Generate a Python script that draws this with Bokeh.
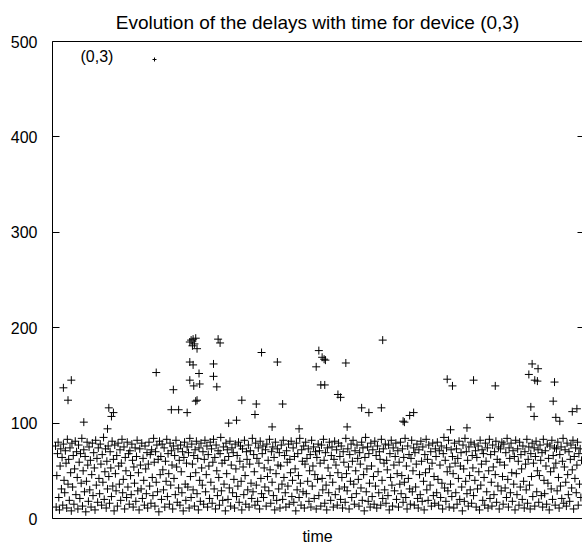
from bokeh.plotting import figure
from bokeh.models import (Range1d, LinearAxis, FixedTicker, Legend, LegendItem,
                          ColumnDataSource, CustomJSTickFormatter, Label)
from bokeh.embed import file_html
from bokeh.resources import INLINE

title_text = "Evolution of the delays with time for device (0,3)"
series_name = "(0,3)"
x_label = "time"
y_ticks = [0, 100, 200, 300, 400, 500]

# regular delays, one per time step
delays = [
    76, 12, 45, 68, 80, 22, 9, 55, 73, 31, 64, 14, 78, 40, 27, 71, 58, 11, 83, 36,
    62, 19, 74, 48, 8, 79, 33, 66, 15, 52, 81, 25, 70, 43, 10, 77, 59, 21, 68, 37,
    84, 13, 50, 72, 28, 65, 7, 39, 80, 56, 18, 75, 30, 61, 12, 46, 79, 24, 69, 53,
    9, 82, 35, 63, 17, 74, 42, 26, 78, 57, 14, 67, 38, 85, 20, 49, 73, 11, 60, 31,
    76, 44, 16, 70, 53, 23, 81, 34, 62, 8, 77, 47, 29, 66, 13, 79, 55, 36, 72, 19,
    58, 83, 27, 41, 75, 10, 64, 50, 22, 80, 33, 68, 15, 71, 45, 25, 78, 61, 12, 54,
    37, 74, 18, 65, 82, 29, 48, 9, 73, 56, 31, 79, 21, 63, 40, 14, 76, 52, 26, 69,
    11, 57, 80, 34, 67, 16, 72, 43, 24, 84, 59, 13, 70, 38, 77, 28, 62, 7, 81, 46,
    65, 20, 78, 51, 30, 74, 12, 60, 39, 83, 23, 68, 47, 15, 79, 35, 71, 56, 10, 76,
    42, 66, 25, 82, 54, 17, 73, 32, 61, 14, 77, 49, 27, 70, 8, 64, 80, 36, 19, 58,
    75, 33, 69, 11, 84, 44, 22, 78, 57, 30, 66, 13, 72, 48, 81, 26, 63, 9, 74, 40,
    18, 79, 53, 35, 70, 15, 62, 82, 28, 46, 76, 12, 67, 55, 21, 80, 38, 73, 16, 59,
    83, 31, 64, 10, 77, 50, 24, 71, 43, 14, 68, 85, 29, 58, 19, 75, 36, 61, 8, 79,
    47, 72, 20, 65, 32, 81, 13, 56, 74, 27, 69, 41, 11, 78, 52, 23, 66, 34, 80, 17,
    60, 76, 39, 9, 73, 54, 25, 82, 45, 15, 70, 62, 30, 77, 12, 57, 71, 37, 21, 84,
    28, 67, 49, 14, 79, 35, 63, 18, 74, 58, 10, 81, 42, 26, 68, 76, 22, 53, 33, 72,
    13, 78, 44, 61, 29, 83, 51, 16, 70, 38, 75, 24, 64, 9, 80, 47, 19, 73, 56, 31,
    69, 11, 55, 77, 36, 20, 82, 43, 66, 27, 12, 71, 59, 34, 78, 15, 62, 48, 81, 23,
    40, 74, 17, 65, 52, 8, 79, 30, 68, 45, 22, 84, 37, 14, 72, 60, 28, 76, 11, 57,
    80, 26, 63, 39, 73, 18, 50, 67, 12, 82, 34, 55, 75, 21, 46, 70, 10, 64, 41, 78,
    24, 71, 58, 13, 77, 42, 30, 83, 61, 16, 69, 35, 9, 74, 53, 27, 80, 45, 19, 66,
    75, 38, 12, 62, 81, 25, 56, 72, 14, 48, 79, 31, 65, 20, 76, 43, 11, 70, 59, 33,
    17, 84, 47, 29, 73, 54, 10, 67, 39, 78, 22, 60, 82, 36, 15, 71, 50, 26, 77, 63,
    41, 13, 69, 57, 32, 80, 19, 74, 46, 8, 64, 85, 28, 52, 75, 18, 68, 37, 12, 79,
    55, 23, 72, 44, 15, 81, 34, 66, 11, 76, 49, 27, 70, 62, 14, 83, 40, 21, 73, 58,
    30, 78, 16, 61, 51, 24, 77, 9, 68, 43, 82, 35, 13, 74, 56, 29, 65, 79, 20, 47,
    71, 12, 59, 36, 80, 26, 45, 73, 17, 64, 38, 84, 22, 55, 10, 76, 42, 67, 31, 15,
    63, 82, 28, 50, 74, 14, 69, 33, 57, 78, 21, 11, 72, 46, 25, 81, 60, 18, 75, 39,
    9, 67, 48, 83, 30, 62, 19, 77, 52, 35, 70, 13, 58, 79, 24, 44, 16, 73, 65, 27,
    80, 41, 14, 71, 56, 22, 76, 37, 10, 68, 85, 32, 61, 18, 74, 49, 29, 82, 12, 54,
    36, 72, 23, 65, 47, 11, 79, 58, 27, 73, 15, 63, 42, 81, 20, 55, 69, 33, 8, 77,
    52, 18, 84, 39, 70, 26, 61, 13, 75, 45, 30, 80, 16, 66, 53, 24, 78, 40, 71, 12,
    64, 31, 76, 49, 9, 82, 35, 57, 72, 19, 68, 43, 14, 79, 60, 28, 74, 11, 50, 83,
    21, 67, 38, 13, 77, 54, 25, 70, 46, 81, 17, 62, 34, 75, 10, 59, 73, 29, 80, 44,
    15, 78, 56, 32, 69, 22, 84, 41, 12, 74, 63, 27, 79, 48, 18, 71, 36, 65, 9, 82,
    47, 25, 73, 60, 14, 80, 33, 67, 52, 20, 76, 39, 11, 70, 57, 30, 83, 16, 62, 75,
    35, 10, 68, 44, 79, 23, 58, 74, 13, 65, 81, 28, 50, 72, 17, 45, 77, 61, 24, 69,
    12, 83, 40, 26, 71, 55, 15, 78, 37, 63, 9, 76, 49, 31, 82, 20, 66, 53, 74, 14,
    58, 73, 29, 80, 43, 11, 67, 34, 75, 21, 60, 84, 16, 54, 72, 38, 13, 79, 46, 25,
    70, 18, 62, 77, 32, 51, 82, 10, 65, 42, 74, 27, 56, 80, 14, 68, 36, 73, 22, 61,
]
time = list(range(len(delays)))

# larger delays (spikes)
spike_time = [12, 24, 19, 43, 81, 88, 85, 79, 153, 179, 176, 187, 200,
              204, 209, 213, 208, 215, 211, 206, 204, 209, 218, 204, 210, 219,
              215, 213, 247, 250, 240, 240, 245, 263, 313, 337, 283, 305, 303,
              345, 275, 400, 405, 410, 408, 396, 441, 403, 409, 429, 433, 497,
              465, 476, 495, 329, 370, 443, 528, 595, 603, 635, 668, 724, 733,
              719, 728, 732, 758, 756, 722, 727, 760, 766, 660, 792, 785, 544,
              538, 530, 625, 600]
spike_delay = [137, 145, 124, 101, 116, 111, 107, 94, 153, 135, 114, 114, 111,
               185, 188, 189, 181, 178, 183, 187, 164, 161, 152, 145, 139, 141,
               124, 123, 188, 184, 162, 149, 138, 100, 174, 164, 124, 120, 109,
               120, 103, 176, 169, 166, 167, 159, 163, 140, 140, 130, 127, 187,
               116, 111, 116, 96, 94, 96, 102, 146, 139, 145, 139, 162, 157,
               151, 145, 144, 143, 123, 117, 107, 106, 102, 106, 115, 112, 111,
               108, 101, 95, 93]

source = ColumnDataSource(dict(t=time + spike_time, d=delays + spike_delay))

FONT = "Liberation Sans"

p = figure(width=582, height=549, output_backend="svg", toolbar_location=None,
           x_range=Range1d(-4.56, 800.5), y_range=Range1d(0, 500),
           min_border_left=52, min_border_right=0, min_border_top=41,
           min_border_bottom=31, title=title_text)
p.outline_line_color = None
p.grid.visible = False
p.background_fill_color = "white"
p.border_fill_color = "white"

p.title.text_font = FONT
p.title.text_font_size = "19px"
p.title.text_font_style = "normal"
p.title.align = "center"
p.title.text_color = "black"
p.title.standoff = 18

yax = p.yaxis[0]
yax.ticker = FixedTicker(ticks=y_ticks)
yax.axis_line_color = "black"
yax.axis_line_width = 1
yax.major_tick_line_color = "black"
yax.major_tick_in = 7
yax.major_tick_out = 0
yax.minor_tick_line_color = None
yax.major_label_standoff = 15
yax.major_label_text_font = FONT
yax.major_label_text_font_size = "16px"
yax.major_label_text_color = "black"

xax = p.xaxis[0]
xax.ticker = FixedTicker(ticks=[])
xax.axis_line_color = "black"
xax.axis_line_width = 1
xax.major_tick_in = 0
xax.major_tick_out = 0
xax.minor_tick_line_color = None
xax.major_label_standoff = 0
xax.axis_label = x_label
xax.axis_label_standoff = 9
xax.axis_label_text_font = FONT
xax.axis_label_text_font_size = "16px"
xax.axis_label_text_font_style = "normal"
xax.axis_label_text_color = "black"

right = LinearAxis(ticker=FixedTicker(ticks=y_ticks),
                   formatter=CustomJSTickFormatter(code="return ''"))
right.axis_line_color = None
right.major_tick_line_color = "black"
right.major_tick_in = 5
right.major_tick_out = 0
right.minor_tick_line_color = None
right.major_label_standoff = 0
p.add_layout(right, "right")

# top border line of the frame
top = LinearAxis(ticker=FixedTicker(ticks=[]))
top.axis_line_color = "black"
top.axis_line_width = 1
top.major_tick_in = 0
top.major_tick_out = 0
top.minor_tick_line_color = None
top.major_label_standoff = 0
p.add_layout(top, "above")

r = p.scatter("t", "d", source=source, marker="cross", size=8,
              line_color="black", line_width=1)

# key: text first, then the point sample (gnuplot style)
key_text = Label(x=38, y=484, text=series_name, text_align="left",
                 text_baseline="middle", text_font=FONT,
                 text_font_size="16px", text_color="black")
p.add_layout(key_text)

legend = Legend(items=[LegendItem(label=" ", renderers=[r])],
                location=(97, 454), border_line_color=None,
                background_fill_alpha=0, padding=0, margin=0, spacing=0,
                glyph_width=10, glyph_height=10, label_height=10,
                label_standoff=0, label_text_font=FONT,
                label_text_font_size="16px", label_text_color="black")
p.add_layout(legend)

open("out.html", "w").write(file_html(p, INLINE))
